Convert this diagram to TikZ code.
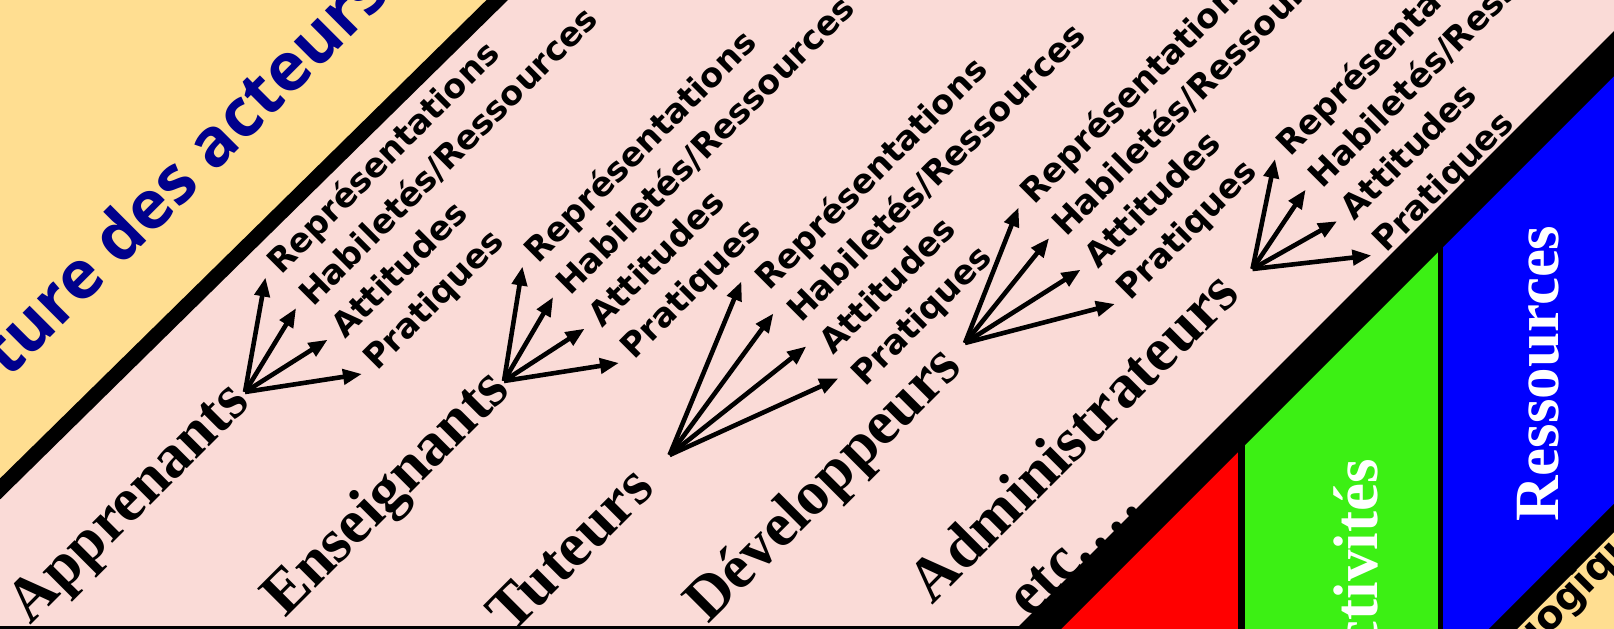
\documentclass[tikz,border=0pt]{standalone}
\usepackage{fontspec}
\setmainfont{Liberation Serif}
\newfontfamily\labf{DejaVu Sans}
\newfontfamily\titf{Open Sans}
\usetikzlibrary{arrows.meta}
\definecolor{bgpink}{RGB}{250,219,215}
\definecolor{bgyellow}{RGB}{255,222,145}
\definecolor{navy}{RGB}{0,0,140}
\definecolor{zgreen}{RGB}{60,240,20}
\definecolor{zred}{RGB}{255,0,0}
\definecolor{zblue}{RGB}{0,0,255}
\tikzset{
  actor/.style={rotate=45, anchor=base west, inner sep=0pt, font=\fontsize{62}{62}\selectfont\bfseries},
  lab/.style={rotate=45, anchor=base west, inner xsep=12pt, inner ysep=0pt, font=\labf\fontsize{33.5}{33.5}\selectfont\bfseries},
  arr/.style={line width=4.6pt, -{Triangle[length=19pt,width=15pt]}},
  vlab/.style={rotate=90, inner sep=0pt, text=white, font=\fontsize{63}{63}\selectfont\bfseries},
}
\begin{document}
\begin{tikzpicture}[x=1pt,y=-1pt]
\useasboundingbox (0,0) rectangle (1614,629);
% backgrounds
\fill[bgpink] (0,0) rectangle (1614,629);
\fill[bgyellow] (-10,-10) -- (507.2,-10) -- (-10,498.8) -- cycle;
\node[rotate=45, anchor=base west, inner sep=0pt, text=navy, font=\titf\fontsize{67}{67}\selectfont\bfseries] (tit) at (8,380) {ture des acteurs};
\draw[line width=15pt] (507.2,-9.8) -- (-10,498.8);
\fill (0,625.5) rectangle (1100,640);
\node[actor] (etc) at (1030,620) {etc.\kern6pt.\kern6pt.\kern6pt.};
% coloured strips
\begin{scope}
\clip (1000,667.5) -- (1697.5,-30) -- (1700,-30) -- (1700,700) -- (1000,700) -- cycle;
\fill[zred] (900,-30) rectangle (1241.5,700);
\fill[zgreen] (1241.5,-30) rectangle (1440.5,700);
\fill[zblue] (1440.5,-30) rectangle (1700,700);
\draw[line width=7pt] (1241.5,-30) -- (1241.5,700);
\draw[line width=5pt] (1440.5,-30) -- (1440.5,700);
\end{scope}
\fill[bgyellow] (1700,432) -- (1700,700) -- (1432,700) -- cycle;
\node[rotate=45, anchor=base west, inner sep=0pt, font=\labf\fontsize{40}{40}\selectfont\bfseries] (ped) at (1449,734.4) {pédagogique};
\draw[line width=20pt] (1720,412) -- (1472,660);
\draw[line width=31.8pt] (1697.5,-30) -- (1000,667.5);
\node[vlab, anchor=base west] (res) at (1558,522) {Ressources};
\node[vlab, anchor=base east] (act) at (1377,459) {Activités};
% actors
\node[actor] (ap) at (30.5,625.5) {Apprenants};
\node[actor] (en) at (285,619) {Enseignants};
\node[actor] (tu) at (511.5,635.5) {Tuteurs};
\node[actor] (de) at (708,625) {Développeurs};
\node[actor] (ad) at (932.5,605.5) {Administrateurs};
% hubs
\coordinate (o1) at (245,392);
\coordinate (o2) at (504,381);
\coordinate (o3) at (669.6,455);
\coordinate (o4) at (965,343);
\coordinate (o5) at (1252.5,269);
% labels
\node[lab] (g1a) at (272.5,284.5) {Représentations};
\node[lab] (g1b) at (304.5,316.5) {Habiletés/Ressources};
\node[lab] (g1c) at (336.5,348.5) {Attitudes};
\node[lab] (g1d) at (368.5,380.5) {Pratiques};
\node[lab] (g2a) at (529.5,273.5) {Représentations};
\node[lab] (g2b) at (561.5,305.5) {Habiletés/Ressources};
\node[lab] (g2c) at (593.5,337.5) {Attitudes};
\node[lab] (g2d) at (625.5,369.5) {Pratiques};
\node[lab] (g3a) at (760.5,300.5) {Représentations};
\node[lab] (g3b) at (792.5,332.5) {Habiletés/Ressources};
\node[lab] (g3c) at (824.5,364.5) {Attitudes};
\node[lab] (g3d) at (856.5,396.5) {Pratiques};
\node[lab] (g4a) at (1025.5,214.5) {Représentations};
\node[lab] (g4b) at (1057.5,246.5) {Habiletés/Ressources};
\node[lab] (g4c) at (1089.5,278.5) {Attitudes};
\node[lab] (g4d) at (1121.5,310.5) {Pratiques};
\node[lab] (g5a) at (1282,166) {Représentations};
\node[lab] (g5b) at (1314,198) {Habiletés/Ressources};
\node[lab] (g5c) at (1346,230) {Attitudes};
\node[lab] (g5d) at (1378,262) {Pratiques};
% arrows
\foreach \g in {1,2,4,5}{
  \foreach \k in {a,b,c,d}{
    \draw[arr] (o\g) -- (g\g\k.west);
  }
}
\foreach \k in {a,b,c,d}{
  \draw[arr] (o3) -- (g3\k.north west);
}
\end{tikzpicture}
\end{document}
